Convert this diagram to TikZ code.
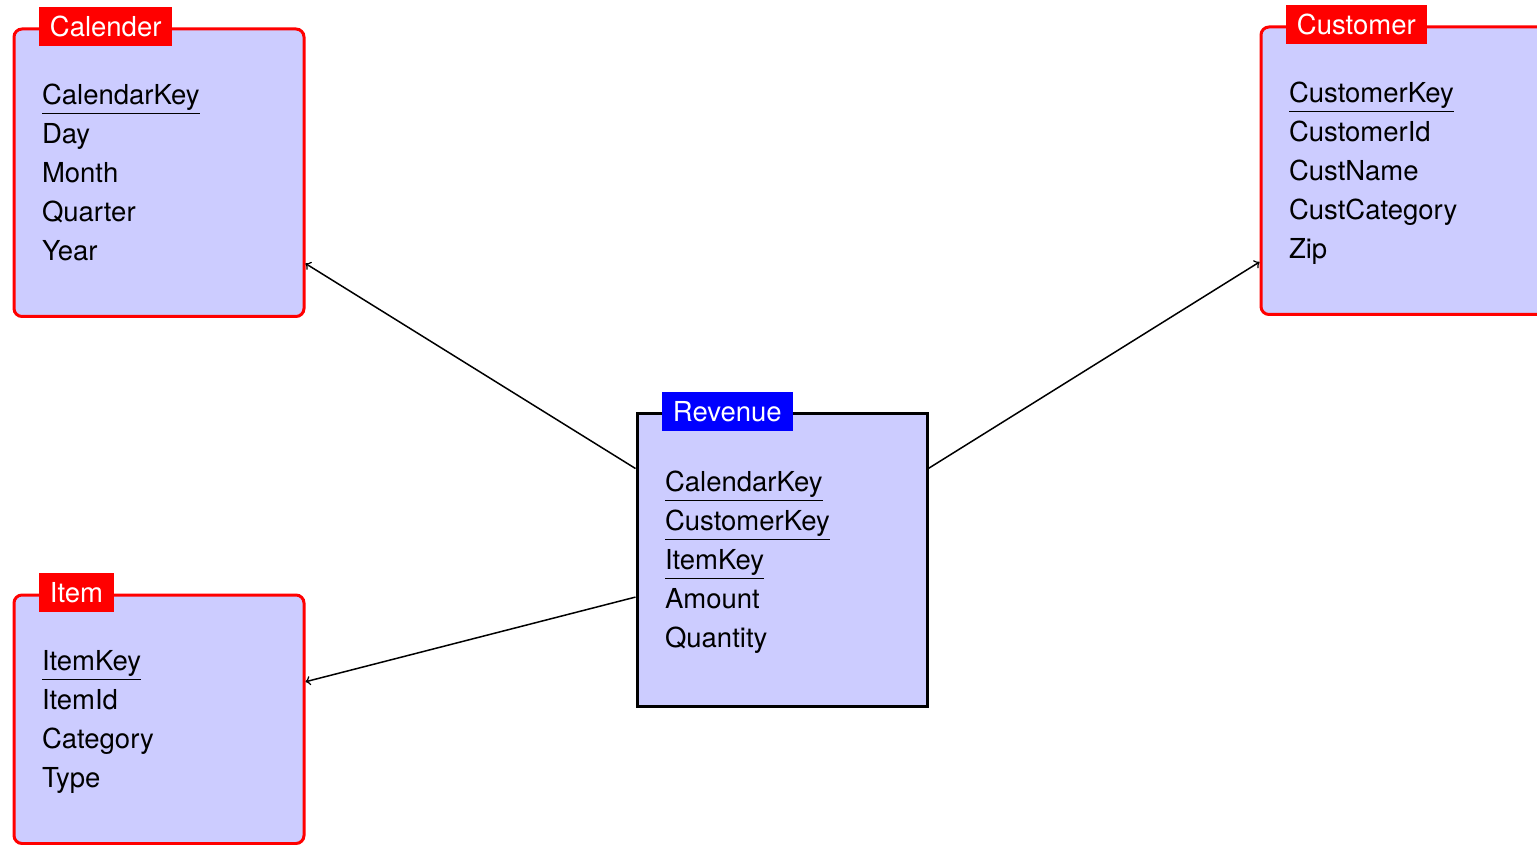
\documentclass[tikz,border=0pt]{standalone}
\usepackage{fontspec}
\setmainfont{TeX Gyre Heros}
\usetikzlibrary{positioning}
\newcommand{\pk}[1]{\underline{#1}}

\begin{document}
\begin{tikzpicture}
        [x=0.5pt,y=-0.5pt,every node/.style={font=\fontsize{13.75pt}{19.5pt}\selectfont},
         entity/.style={rectangle,fill=blue!20,line width=1.5pt,anchor=north west,
           text width=117pt,inner xsep=14pt,inner ysep=21pt,align=left,
           execute at begin node={\rule{0pt}{16.75pt}},execute at end node={\rule[-7pt]{0pt}{0pt}}},
         dimtable/.style={entity,draw=red,rounded corners=4pt},
         facttable/.style={entity,draw=black},
         tabname/.style={fill=red,text=white,anchor=west,inner xsep=5.5pt,
           inner ysep=4.75pt,text height=9.8pt,text depth=0pt}]
        \useasboundingbox (0,0) rectangle (1537,845);

        \node[dimtable] (cal) at (12.5, 27.5) {\pk{CalendarKey}\\Day\\Month\\Quarter\\Year};
        \node[dimtable] (cust) at (1259.5, 25.5) {\pk{CustomerKey}\\CustomerId\\CustName\\CustCategory\\Zip};
        \node[facttable,minimum height=146.5pt] (rev) at (635.5, 411.5) {\pk{CalendarKey}\\\pk{CustomerKey}\\\pk{ItemKey}\\Amount\\Quantity};
        \node[dimtable] (item) at (12.5, 593.5) {\pk{ItemKey}\\ItemId\\Category\\Type};

        \node[tabname] (calname) at ([xshift=13pt,yshift=0.5pt]cal.north west) {Calender};
        \node[tabname] (custname) at ([xshift=13pt,yshift=0.5pt]cust.north west) {Customer};
        \node[tabname,fill=blue] (revname) at ([xshift=13pt,yshift=0pt]rev.north west) {Revenue};
        \node[tabname] (itemname) at ([xshift=13pt,yshift=0.5pt]item.north west) {Item};

        \foreach \to in {cal, cust, item}
            \draw[->,line width=0.75pt] (rev) -- (\to);

      \end{tikzpicture}
\end{document}
